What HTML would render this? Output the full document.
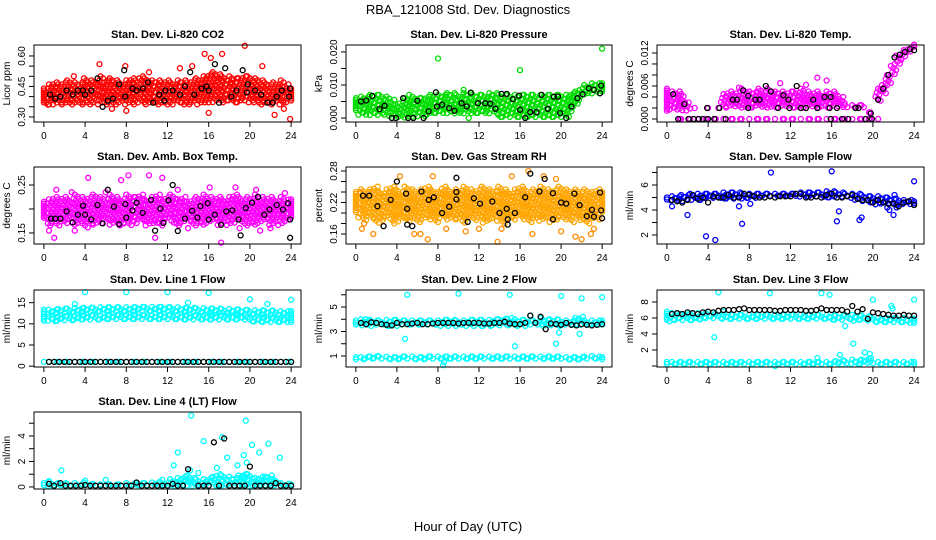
<!DOCTYPE html>
<html><head><meta charset="utf-8"><style>
html,body{margin:0;padding:0;background:#fff;}
svg{display:block;font-family:"Liberation Sans",Arial,sans-serif;}
</style></head><body>
<svg id="chart" width="936" height="540" viewBox="0 0 936 540">
<rect x="0" y="0" width="936" height="540" fill="#fff"/>
<text x="468" y="14" text-anchor="middle" font-size="13">RBA_121008  Std. Dev. Diagnostics</text>
<text x="468" y="531" text-anchor="middle" font-size="13">Hour of Day (UTC)</text>
</svg>
<script>
const hours=[0,0.5,1,1.5,2,2.5,3,3.5,4,4.5,5,5.5,6,6.5,7,7.5,8,8.5,9,9.5,10,10.5,11,11.5,12,12.5,13,13.5,14,14.5,15,15.5,16,16.5,17,17.5,18,18.5,19,19.5,20,20.5,21,21.5,22,22.5,23,23.5,24];
const xTicks=[0,4,8,12,16,20,24];
const n=null;
// P1 CO2
const co2Lo=[0.37,0.36,0.36,0.37,0.36,0.36,0.37,0.36,0.37,0.36,0.37,0.36,0.36,0.37,0.36,0.37,0.36,0.37,0.36,0.37,0.36,0.37,0.36,0.37,0.36,0.36,0.37,0.36,0.36,0.37,0.36,0.37,0.37,0.37,0.38,0.37,0.38,0.37,0.37,0.38,0.37,0.37,0.36,0.37,0.36,0.37,0.36,0.37,0.38];
const co2Hi=[0.44,0.46,0.47,0.46,0.47,0.48,0.47,0.46,0.49,0.48,0.47,0.50,0.48,0.49,0.48,0.47,0.48,0.49,0.48,0.50,0.49,0.48,0.48,0.47,0.48,0.47,0.48,0.48,0.47,0.48,0.49,0.50,0.51,0.52,0.51,0.50,0.50,0.49,0.49,0.50,0.50,0.49,0.48,0.47,0.46,0.47,0.48,0.46,0.44];
const co2OutX=[0.4,5.4,6.6,8.0,15.6,16.0,16.2,17.3,19.5,21.2,22.4,23.3,23.9,14.4,13.2,2.9,10.2,7.9];
const co2OutY=[0.36,0.56,0.34,0.33,0.61,0.32,0.59,0.61,0.65,0.55,0.31,0.34,0.29,0.55,0.54,0.50,0.52,0.55];
const co2BlkX=[0.6,1.1,1.6,2.2,2.8,3.3,3.8,4.0,4.6,5.2,5.7,6.2,6.7,7.3,7.8,7.9,8.6,9.0,9.6,10.1,10.6,11.2,11.7,11.8,12.5,13.2,13.7,14.2,14.6,15.3,15.8,16.0,16.6,17.0,17.6,18.2,18.7,19.3,19.7,19.8,20.5,21.1,21.7,22.2,22.6,23.1,23.8,23.9];
const co2BlkY=[0.41,0.39,0.40,0.43,0.41,0.43,0.43,0.41,0.43,0.49,0.35,0.38,0.39,0.46,0.53,0.40,0.44,0.43,0.44,0.47,0.37,0.41,0.38,0.43,0.43,0.41,0.45,0.52,0.41,0.44,0.45,0.43,0.56,0.37,0.54,0.40,0.43,0.53,0.42,0.46,0.43,0.41,0.37,0.37,0.40,0.43,0.40,0.44];
// P2 Pressure
const prLo=[0.002,0.001,0.0005,0.0005,0.0005,0.001,0.001,0,0,0,0,0,0,0,0.001,0.001,0.001,0.001,0.001,0.001,0.001,0.001,0.001,0.001,0.001,0.001,0.001,0.001,0,0,0,0,0,0,0,0,0,0,0,0,0,0,0.002,0.004,0.006,0.007,0.007,0.007,0.008];
const prHi=[0.006,0.0065,0.0065,0.007,0.007,0.007,0.0065,0.0055,0.004,0.005,0.006,0.0065,0.006,0.006,0.0065,0.007,0.007,0.007,0.0075,0.0075,0.007,0.0075,0.0075,0.007,0.007,0.007,0.0075,0.0075,0.007,0.007,0.007,0.007,0.007,0.007,0.007,0.007,0.007,0.007,0.007,0.007,0.007,0.007,0.0075,0.008,0.009,0.010,0.0105,0.0105,0.0105];
const prOutX=[8.0,16.0,24.0,11.0,5.2,10.5];
const prOutY=[0.018,0.0145,0.021,0,0.007,0.0085];
const prBlkX=[0.5,1.0,1.6,2.3,2.8,3.5,3.9,4.6,5.1,5.6,6.0,6.6,7.1,7.8,7.9,8.4,9.1,9.6,10.3,10.8,11.2,11.9,12.6,13.1,13.6,14.2,14.7,15.3,15.9,16.0,16.5,17.0,17.6,18.1,18.7,19.3,19.7,19.9,20.5,21.0,21.6,22.1,22.7,23.2,23.8,23.9];
const prBlkY=[0.005,0.0053,0.0067,0.0027,0.0037,0,0,0.006,0,0,0.0052,0,0.002,0.0078,0.0035,0.004,0.003,0.0022,0.0045,0.0035,0.0077,0.0045,0.0045,0.0043,0.0028,0.0073,0.0073,0.0057,0.0068,0.0025,0,0.0018,0.0018,0.007,0.0028,0.0065,0.0065,0.0015,0,0.0035,0.006,0.0072,0.009,0.0085,0.0075,0.0098];
// P3 Li-820 Temp
const tLo=[0.0015,0.0015,0.0015,0.0015,0.0015,n,n,n,n,n,n,0.002,0.002,0.002,0.002,0.002,0.002,0.002,0.002,0.002,0.002,0.002,0.002,0.002,0.002,0.002,0.002,0.002,0.002,0.002,0.002,0.002,0.002,0.002,0.002,0.002,0.002,0.002,0.002,0.001,0.001,0.003,0.0045,0.006,0.008,0.010,0.011,0.012,0.0128];
const tHi=[0.0055,0.005,0.005,0.0045,0.003,n,n,n,n,n,n,0.0045,0.005,0.0045,0.005,0.0055,0.005,0.005,0.0055,0.005,0.0055,0.005,0.005,0.0045,0.005,0.005,0.0055,0.005,0.0045,0.005,0.0045,0.005,0.005,0.0045,0.004,0.0025,0.0025,0.0025,0.0025,0.0012,0.0012,0.0055,0.0065,0.008,0.010,0.0115,0.0125,0.013,0.0135];
const tZero=[n,n,0,0,0,0,0,0,0,0,0,0,0,0,0,0,0,0,0,0,0,0,0,0,0,0,0,0,0,0,0,0,0,0,0,0,0,0,0,0,0,0,n,n,n,n,n,n,n];
const tOutX=[2.7,4.0,5.0,11.0,14.6,15.5,7.0,13.5];
const tOutY=[0.002,0.002,0.002,0.0065,0.0075,0.007,0.0057,0.0062];
const tBlkX=[0.6,1.1,1.7,2.1,2.6,3.1,3.5,3.9,4.0,4.6,5.1,5.7,6.4,6.8,7.4,7.9,7.9,8.6,9.0,9.6,10.1,10.8,11.3,11.8,11.9,12.6,13.0,13.5,14.2,14.6,15.3,15.8,15.9,15.9,16.5,17.0,17.6,18.3,18.6,19.3,19.8,19.9,20.5,21.0,21.5,22.1,22.6,23.1,23.6,24.0];
const tBlkY=[0.0045,0,0.0027,0,0,0,0,0.002,0,0,0.002,0,0.0035,0.0035,0.0052,0.002,0.0042,0.0035,0.0035,0.006,0.005,0.002,0.0043,0.0035,0.002,0.006,0.002,0.002,0.0035,0.002,0.004,0.002,0,0.004,0.002,0,0,0.002,0.002,0,0.001,0,0.0035,0.0055,0.008,0.0112,0.0117,0.0122,0.0127,0.0125];
// P4 Amb box temp
const abLo=[0.18,0.165,0.17,0.165,0.17,0.175,0.165,0.17,0.16,0.17,0.165,0.17,0.175,0.165,0.17,0.165,0.17,0.165,0.17,0.175,0.165,0.17,0.17,0.165,0.175,0.17,0.165,0.17,0.175,0.165,0.17,0.165,0.17,0.175,0.165,0.17,0.165,0.17,0.175,0.165,0.17,0.165,0.17,0.175,0.165,0.17,0.165,0.17,0.18];
const abHi=[0.215,0.22,0.225,0.22,0.225,0.22,0.23,0.225,0.22,0.225,0.23,0.225,0.22,0.23,0.225,0.22,0.23,0.225,0.225,0.23,0.22,0.225,0.23,0.22,0.225,0.23,0.22,0.225,0.215,0.22,0.225,0.23,0.225,0.22,0.225,0.22,0.225,0.23,0.225,0.22,0.225,0.23,0.225,0.22,0.225,0.22,0.225,0.22,0.22];
const abOutX=[1.2,1.0,2.7,4.3,7.5,8.2,10.2,11.5,10.8,16.1,18.6,20.6,23.4,19.0,17.2,22.0,3.0,6.0,13.0,14.0,21.0,0.5];
const abOutY=[0.24,0.14,0.235,0.265,0.26,0.27,0.27,0.265,0.14,0.245,0.245,0.24,0.233,0.16,0.13,0.16,0.155,0.235,0.24,0.16,0.155,0.155];
const abBlkX=[0.7,1.1,1.6,2.2,2.8,3.3,3.8,4.0,4.6,5.2,5.7,6.2,6.8,7.3,7.9,8.0,8.6,9.0,9.6,10.4,10.8,11.3,11.6,12.1,12.5,13.0,13.7,14.4,14.9,15.2,15.9,16.0,16.6,17.2,17.7,18.3,18.9,19.1,19.6,20.2,20.8,21.4,21.9,22.6,23.2,23.7,23.9,23.9];
const abBlkY=[0.18,0.18,0.18,0.195,0.172,0.188,0.207,0.188,0.178,0.208,0.17,0.24,0.205,0.168,0.21,0.182,0.197,0.213,0.192,0.219,0.155,0.201,0.171,0.218,0.25,0.154,0.18,0.196,0.182,0.206,0.212,0.178,0.188,0.167,0.195,0.197,0.178,0.145,0.202,0.213,0.225,0.188,0.199,0.208,0.199,0.212,0.178,0.14];
// P5 Gas stream RH
const rhLo=[0.2,0.19,0.185,0.19,0.18,0.185,0.19,0.185,0.18,0.19,0.185,0.19,0.18,0.185,0.19,0.185,0.18,0.19,0.185,0.19,0.185,0.18,0.19,0.185,0.19,0.18,0.185,0.19,0.185,0.18,0.19,0.185,0.19,0.185,0.18,0.19,0.185,0.19,0.18,0.185,0.19,0.185,0.18,0.19,0.185,0.18,0.19,0.185,0.2];
const rhHi=[0.24,0.245,0.24,0.245,0.25,0.24,0.245,0.25,0.245,0.24,0.25,0.245,0.24,0.245,0.25,0.245,0.24,0.25,0.245,0.24,0.245,0.25,0.245,0.24,0.245,0.25,0.245,0.24,0.25,0.245,0.24,0.245,0.25,0.245,0.24,0.245,0.25,0.245,0.24,0.245,0.25,0.245,0.24,0.245,0.24,0.245,0.24,0.245,0.24];
const rhOutX=[0.4,0.6,1.7,4.3,7.0,7.5,8.8,10.7,13.8,15.2,16.8,18.3,20.0,21.4,22.0,22.9,23.2,0.8,5.7,12.0,17.2,19.5,6.3,14.2];
const rhOutY=[0.24,0.17,0.16,0.27,0.15,0.27,0.17,0.165,0.145,0.27,0.28,0.27,0.165,0.155,0.15,0.16,0.17,0.18,0.16,0.17,0.16,0.265,0.16,0.17];
const rhBlkX=[0.7,1.3,2.1,2.7,3.4,4.0,4.9,5.0,5.0,5.5,6.4,7.1,7.6,8.4,9.1,9.8,9.8,9.8,10.9,11.5,12.1,13.3,14.0,14.7,14.8,14.8,15.5,16.5,17.0,17.9,18.4,19.2,19.2,20.0,20.5,21.3,21.8,22.5,23.0,23.2,23.8,24.0,23.9];
const rhBlkY=[0.233,0.233,0.213,0.175,0.225,0.26,0.237,0.208,0.178,0.175,0.241,0.225,0.23,0.2,0.212,0.267,0.24,0.226,0.183,0.228,0.218,0.222,0.2,0.208,0.188,0.178,0.2,0.23,0.275,0.241,0.265,0.238,0.188,0.22,0.218,0.237,0.215,0.194,0.206,0.193,0.239,0.19,0.205];
// P6 Sample flow
const sfLo=[4.7,4.7,4.7,4.7,4.8,4.8,4.8,4.8,4.9,4.9,4.9,4.9,4.9,4.9,4.9,4.9,4.9,4.9,5.0,5.0,5.0,5.0,5.0,5.0,5.0,5.0,5.0,5.0,5.0,5.0,5.0,5.0,5.0,5.0,5.0,5.0,4.9,4.8,4.7,4.6,4.5,4.4,4.4,4.4,4.4,4.4,4.4,4.4,4.4];
const sfHi=[5.0,5.1,5.1,5.2,5.2,5.3,5.3,5.3,5.3,5.3,5.3,5.4,5.4,5.4,5.4,5.3,5.3,5.3,5.3,5.3,5.3,5.3,5.3,5.3,5.3,5.3,5.4,5.4,5.4,5.4,5.4,5.5,5.5,5.4,5.4,5.3,5.3,5.3,5.2,5.1,5.1,5.1,5.0,5.0,4.9,4.9,4.8,4.8,4.7];
const sfOutX=[0.5,2.0,3.8,4.7,7.0,7.3,8.1,10.1,16.0,16.5,16.7,18.7,18.9,21.4,22.0,22.1,24.0,21.6,22.3];
const sfOutY=[4.3,3.6,1.9,1.6,4.3,2.9,4.5,7.0,7.1,3.1,3.9,3.2,3.4,4.2,3.6,5.2,6.3,4.0,4.2];
const sfBlk=[n,4.8,4.7,4.6,4.8,5.2,4.9,5.0,4.6,5.1,5.0,5.0,5.2,5.0,5.0,5.3,5.2,5.1,5.0,5.0,5.1,5.0,5.1,5.1,5.1,5.3,5.3,5.0,5.0,5.1,5.0,5.2,5.3,5.0,5.0,5.1,5.2,4.9,4.8,4.8,4.6,4.8,4.6,4.5,4.5,4.3,4.6,4.7,4.4];
// P7 Line 1 flow
const l1UpLo=[12.3,12.2,12.3,12.4,12.5,12.5,12.6,12.6,12.7,12.7,12.7,12.8,12.8,12.8,12.8,12.8,12.8,12.8,12.8,12.9,12.9,12.9,12.9,12.9,12.8,12.8,12.8,12.7,12.7,12.7,12.6,12.6,12.5,12.5,12.5,12.4,12.4,12.3,12.3,12.2,12.2,12.1,12.1,12.0,12.0,12.0,11.9,11.9,11.9];
const l1UpHi=[13.4,13.3,13.4,13.5,13.6,13.6,13.7,13.7,13.8,13.8,13.8,13.9,13.9,13.9,13.9,13.9,13.9,13.9,13.9,14.0,14.0,14.0,14.0,14.0,13.9,13.9,13.9,13.8,13.8,13.8,13.7,13.7,13.6,13.6,13.6,13.5,13.5,13.4,13.4,13.3,13.3,13.2,13.2,13.1,13.1,13.1,13.0,13.0,13.0];
const l1LwLo=[10.7,10.7,10.6,10.7,10.8,10.8,10.9,11.0,11.0,11.0,11.0,11.0,11.1,11.1,11.1,11.1,11.1,11.1,11.1,11.1,11.1,11.1,11.1,11.1,11.1,11.1,11.1,11.0,11.0,11.0,11.0,11.0,11.0,11.0,11.0,11.0,11.0,11.0,11.0,11.0,10.6,10.5,10.5,10.4,10.4,10.4,10.4,10.4,10.4];
const l1LwHi=[11.7,11.7,11.6,11.7,11.8,11.8,11.9,12.0,12.0,12.0,12.0,12.0,12.1,12.1,12.1,12.1,12.1,12.1,12.1,12.1,12.1,12.1,12.1,12.1,12.1,12.1,12.1,12.0,12.0,12.0,12.0,12.0,12.0,12.0,12.0,12.0,12.0,12.0,12.0,12.0,11.6,11.5,11.5,11.4,11.4,11.4,11.4,11.4,11.4];
const l1Bot=[1,1,1,1,1,1,1,1,1,1,1,1,1,1,1,1,1,1,1,1,1,1,1,1,1,1,1,1,1,1,1,1,1,1,1,1,1,1,1,1,1,1,1,1,1,1,1,1,1];
const l1OutX=[4,8,12,16,20,3,14,21.7,24];
const l1OutY=[17.5,17.5,17.5,17.3,15.8,14.7,15,14.7,15.7];
const l1Blk=[n,1,1,1,1,1,1,1,1,1,1,1,1,1,1,1,1,1,1,1,1,1,1,1,1,1,1,1,1,1,1,1,1,1,1,1,1,1,1,1,1,1,1,1,1,1,1,1,1];
// P8 Line 2 flow
const l2Lo=[3.45,3.45,3.45,3.45,3.45,3.45,3.45,3.45,3.45,3.45,3.45,3.45,3.45,3.45,3.45,3.45,3.45,3.45,3.45,3.45,3.45,3.45,3.45,3.45,3.45,3.45,3.45,3.45,3.45,3.45,3.45,3.45,3.45,3.45,3.45,3.45,3.45,3.45,3.45,3.45,3.45,3.45,3.45,3.45,3.45,3.45,3.45,3.45,3.45];
const l2Hi=[3.9,4.0,3.9,3.95,3.9,3.9,3.95,3.95,3.95,3.9,3.9,3.9,3.9,3.9,3.9,3.9,3.9,3.95,3.95,3.95,3.9,3.9,3.95,3.95,3.95,3.95,3.95,4.0,4.0,4.05,4.0,4.0,3.95,3.95,3.9,3.9,4.1,3.95,4.0,4.0,3.95,3.9,3.9,4.1,4.2,3.9,3.9,3.9,3.9];
const l2BotLo=[0.7,0.7,0.7,0.7,0.7,0.7,0.7,0.7,0.7,0.7,0.7,0.7,0.7,0.7,0.7,0.7,0.7,0.7,0.7,0.7,0.7,0.7,0.7,0.7,0.7,0.7,0.7,0.7,0.7,0.7,0.7,0.7,0.7,0.7,0.7,0.7,0.7,0.7,0.7,0.7,0.7,0.7,0.7,0.7,0.7,0.7,0.7,0.7,0.7];
const l2BotHi=[0.9,0.9,0.95,0.95,1.0,0.95,0.95,0.9,0.9,0.95,0.95,0.95,0.9,0.9,0.95,0.95,0.95,0.95,0.95,0.95,0.95,0.95,0.95,0.95,0.95,0.95,0.95,0.95,0.95,0.95,0.95,0.95,0.95,0.95,0.95,0.95,0.95,0.95,0.95,0.95,0.95,0.9,0.9,0.9,0.9,0.95,1.0,0.95,0.9];
const l2OutX=[5,10,15,20,22,24,4.8,15.5,19.5,19.8,21.8,17,8.5,8.6,15.2,23.8,1.0];
const l2OutY=[6.0,6.1,6.0,5.9,5.7,5.8,2.4,1.8,2.0,2.9,2.8,4.3,0.25,0.5,4.1,3.7,4.0];
const l2Blk=[n,3.7,3.6,3.75,3.7,3.6,3.55,3.5,3.7,3.6,3.6,3.65,3.7,3.6,3.6,3.65,3.7,3.7,3.7,3.7,3.65,3.7,3.7,3.7,3.7,3.65,3.65,3.7,3.7,3.8,3.65,3.6,3.6,3.7,4.3,3.7,4.2,3.2,3.65,3.6,3.55,3.7,3.55,3.5,3.6,3.55,3.5,3.55,3.6];
// P9 Line 3 flow
const l3Lo=[5.6,5.6,5.6,5.7,5.7,5.7,5.8,5.8,5.8,5.9,5.9,5.9,5.9,5.9,5.9,5.9,5.9,5.9,5.9,5.9,5.9,5.9,5.9,5.9,5.9,5.9,5.9,5.9,5.9,5.9,5.9,5.9,5.8,5.8,5.7,5.7,5.6,5.6,5.6,5.6,5.5,5.5,5.4,5.4,5.4,5.4,5.4,5.4,5.4];
const l3Hi=[6.8,6.6,6.5,6.5,6.5,6.5,6.6,6.6,6.5,6.5,6.5,6.4,6.4,6.4,6.4,6.4,6.4,6.4,6.4,6.4,6.4,6.4,6.4,6.4,6.4,6.4,6.4,6.4,6.4,6.4,6.4,6.4,6.3,6.3,6.3,6.4,6.4,6.3,6.3,6.2,6.1,6.0,6.0,6.0,6.0,6.0,6.0,5.9,5.9];
const l3BotLo=[0.2,0.2,0.2,0.2,0.2,0.2,0.2,0.2,0.2,0.2,0.2,0.2,0.2,0.2,0.2,0.2,0.2,0.2,0.2,0.2,0.2,0.2,0.2,0.2,0.2,0.2,0.2,0.2,0.2,0.2,0.2,0.2,0.2,0.2,0.2,0.2,0.2,0.2,0.2,0.2,0.2,0.2,0.2,0.2,0.2,0.2,0.2,0.2,0.2];
const l3BotHi=[0.5,0.5,0.5,0.5,0.5,0.5,0.5,0.5,0.5,0.5,0.5,0.5,0.5,0.5,0.5,0.5,0.5,0.5,0.5,0.5,0.5,0.5,0.5,0.5,0.5,0.5,0.5,0.5,0.5,0.5,0.5,0.5,0.5,0.6,0.7,0.6,0.8,0.7,0.8,0.9,0.6,0.5,0.5,0.5,0.5,0.5,0.5,0.5,0.5];
const l3OutX=[5,10,15,20,24,4.6,19.7,21.8,18.1,17.3,14.6,15.8,16.8,19.2,19.8,10.5,5.5,21.9];
const l3OutY=[9.2,9.1,9.1,8.3,8.3,3.6,1.5,7.5,2.8,5.0,1.0,8.9,1.4,1.7,1.0,0.0,6.8,7.2];
const l3Blk=[n,6.5,6.6,6.5,6.7,6.6,6.5,6.7,6.8,6.7,6.9,7.0,7.0,7.0,7.1,7.2,7.0,7.0,7.0,7.0,7.0,6.9,6.9,7.0,7.0,7.0,7.0,6.9,6.9,7.0,7.2,7.0,7.0,7.0,7.0,6.8,7.5,6.8,7.1,5.9,6.7,6.6,6.5,6.4,6.3,6.3,6.4,6.3,6.3];
// P10 Line 4 flow
const l4Lo=[0.05,0.05,0.05,0.05,0.05,0.05,0.05,0.05,0.05,0.05,0.05,0.05,0.05,0.05,0.05,0.05,0.05,0.05,0.05,0.05,0.05,0.05,0.05,0.05,0.05,0.05,0.05,0.05,0.05,0.05,0.05,0.05,0.05,0.05,0.05,0.05,0.05,0.05,0.05,0.05,0.05,0.05,0.05,0.05,0.05,0.05,0.05,0.05,0.05];
const l4Hi=[0.3,0.4,0.25,0.3,0.3,0.25,0.3,0.2,0.35,0.2,0.25,0.2,0.2,0.2,0.2,0.2,0.3,0.2,0.3,0.3,0.3,0.35,0.4,0.3,0.35,0.6,0.7,0.8,0.9,0.7,0.6,0.6,0.7,0.8,1.0,0.9,0.8,0.7,0.9,1.0,1.0,0.7,0.8,0.6,0.9,0.6,0.3,0.25,0.2];
const l4OutX=[1.7,12.6,13.0,14.3,15.5,16.8,17.3,17.8,18.8,19.4,19.6,19.7,20.2,20.9,21.8,22.9,21.5,19.4,15.0,0.5,4.0,6.0,11.5,14.2];
const l4OutY=[1.3,1.7,2.7,5.6,3.6,1.5,3.9,2.3,1.7,2.5,5.2,1.9,3.3,2.7,3.4,2.3,0.8,0.9,1.1,0.45,0.5,0.55,0.55,1.3];
const l4BlkX=[0.5,1.0,1.6,2.1,2.6,3.1,3.6,4.0,4.5,5.0,5.5,6.0,6.5,7.0,7.5,8.0,8.5,9.0,9.5,10.0,10.5,11.0,11.5,12.0,12.5,13.0,13.5,14.0,15.0,15.5,16.0,16.5,17.0,17.5,18.0,18.5,19.0,19.5,20.0,20.5,21.0,21.5,22.0,22.5,23.0,23.5,24.0];
const l4BlkY=[0.25,0.1,0.3,0.1,0.1,0.1,0.1,0.15,0.1,0.1,0.1,0.1,0.1,0.1,0.1,0.1,0.1,0.35,0.1,0.1,0.1,0.1,0.1,0.1,0.25,0.1,0.1,1.4,0.1,0.1,0.1,3.5,0.1,3.8,0.1,0.1,0.1,0.1,1.6,0.1,0.1,0.1,0.1,0.3,0.1,0.1,0.1];

const NS="http://www.w3.org/2000/svg";
const svg=document.getElementById('chart');
function mk(tag,attrs,parent){const e=document.createElementNS(NS,tag);for(const k in attrs)e.setAttribute(k,attrs[k]);(parent||svg).appendChild(e);return e;}
const jit=[-0.25,0,0.25,-0.12,0.12];

function panel(cfg){
  const g=mk('g',{});
  
  
  const b=cfg.box;
  const sx=v=>b.x0+(v+0.96)/25.92*(b.x1-b.x0);
  const sy=v=>b.y1-(v-cfg.ylim[0])/(cfg.ylim[1]-cfg.ylim[0])*(b.y1-b.y0);
  const marks=mk('g',{fill:'none','stroke-width':1.3},g);
  
  
  function dot(x,y,col){const c=mk('circle',{cx:sx(x).toFixed(1),cy:sy(y).toFixed(1),r:2.5,stroke:col},marks);
    
    }
  (cfg.clouds||[]).forEach(cl=>{
    for(let i=0;i<hours.length;i++){
      const lo=cl.lo[i],hi=cl.hi[i];
      if(lo===null||hi===null)continue;
      const p1=sy(hi),p2=sy(lo);
      let k=0;
      for(let p=p1;p<=p2+0.01||k===0;p+=2.0){
        const off=(i>0&&i<hours.length-1)?jit[(k+i)%jit.length]:0;
        const d=mk('circle',{cx:sx(hours[i]+off).toFixed(1),cy:Math.min(p,p2).toFixed(1),r:2.5,stroke:cl.color},marks);
        
        
        k++;
        if(k>60)break;
      }
    }
  });
  (cfg.outs||[]).forEach(o=>{for(let i=0;i<o.x.length;i++)dot(o.x[i],o.y[i],o.color);});
  (cfg.blks||[]).forEach(o=>{
    if(o.x){for(let i=0;i<o.x.length;i++)dot(o.x[i],o.y[i],'#000');}
    else{for(let i=0;i<hours.length;i++)if(o.y[i]!==null)dot(hours[i],o.y[i],'#000');}
  });
  const fr=mk('rect',{x:b.x0,y:b.y0,width:b.x1-b.x0,height:b.y1-b.y0,fill:'none',stroke:'#000','stroke-width':1},g);
  
  
  const t=mk('text',{x:(b.x0+b.x1)/2,y:b.y0-7,'text-anchor':'middle','font-size':11,'font-weight':'bold'},g);
  t.textContent=cfg.title;
  
  
  xTicks.forEach(v=>{
    const x=sx(v);
    const tk=mk('line',{x1:x,x2:x,y1:b.y1,y2:b.y1+5,stroke:'#000'},g);
    
    
    const tl=mk('text',{x:x,y:b.y1+17,'text-anchor':'middle','font-size':10},g);
    tl.textContent=v;
    
    
  });
  const ax=mk('line',{x1:sx(0),x2:sx(24),y1:b.y1,y2:b.y1,stroke:'#000'},g);
  
  
  cfg.yTicks.forEach(v=>{
    const y=sy(v);
    const tk=mk('line',{x1:b.x0-5,x2:b.x0,y1:y,y2:y,stroke:'#000'},g);
    
    
  });
  cfg.yLabels.forEach((lab,i)=>{
    const y=sy(cfg.yLabelVals[i]);
    const tl=mk('text',{x:0,y:0,'text-anchor':'middle','font-size':10,transform:`translate(${b.x0-9},${y}) rotate(-90)`},g);
    tl.textContent=lab;
    
    
  });
  const yl=mk('text',{x:0,y:0,'text-anchor':'middle','font-size':10,transform:`translate(${b.x0-24},${(b.y0+b.y1)/2}) rotate(-90)`},g);
  yl.textContent=cfg.ylabel;
  
  
}
const C1={x0:34,x1:301},C2={x0:346,x1:612},C3={x0:657,x1:924};
const R1={y0:45,y1:122},R2={y0:167,y1:244},R3={y0:290,y1:367},R4={y0:412,y1:489};
const bx=(c,r)=>({x0:c.x0,x1:c.x1,y0:r.y0,y1:r.y1});

panel({name:'panel-co2',title:'Stan. Dev. Li-820 CO2',ylabel:'Licor ppm',box:bx(C1,R1),ylim:[0.275,0.654],
  yTicks:[0.30,0.35,0.40,0.45,0.50,0.55,0.60],yLabels:['0.30','0.45','0.60'],yLabelVals:[0.30,0.45,0.60],
  clouds:[{lo:co2Lo,hi:co2Hi,color:'#ff0000'}],outs:[{x:co2OutX,y:co2OutY,color:'#ff0000'}],blks:[{x:co2BlkX,y:co2BlkY}]});
panel({name:'panel-pressure',title:'Stan. Dev. Li-820 Pressure',ylabel:'kPa',box:bx(C2,R1),ylim:[-0.0012,0.0221],
  yTicks:[0,0.005,0.010,0.015,0.020],yLabels:['0.000','0.010','0.020'],yLabelVals:[0,0.010,0.020],
  clouds:[{lo:prLo,hi:prHi,color:'#00dd00'}],outs:[{x:prOutX,y:prOutY,color:'#00dd00'}],blks:[{x:prBlkX,y:prBlkY}]});
panel({name:'panel-li820-temp',title:'Stan. Dev. Li-820 Temp.',ylabel:'degrees C',box:bx(C3,R1),ylim:[-0.00055,0.01345],
  yTicks:[0,0.002,0.004,0.006,0.008,0.010,0.012],yLabels:['0.000','0.006','0.012'],yLabelVals:[0,0.006,0.012],
  clouds:[{lo:tLo,hi:tHi,color:'#ff00ff'},{lo:tZero,hi:tZero,color:'#ff00ff'}],outs:[{x:tOutX,y:tOutY,color:'#ff00ff'}],blks:[{x:tBlkX,y:tBlkY}]});
panel({name:'panel-amb-box-temp',title:'Stan. Dev. Amb. Box Temp.',ylabel:'degrees C',box:bx(C1,R2),ylim:[0.127,0.2875],
  yTicks:[0.15,0.20,0.25],yLabels:['0.15','0.25'],yLabelVals:[0.15,0.25],
  clouds:[{lo:abLo,hi:abHi,color:'#ff00ff'}],outs:[{x:abOutX,y:abOutY,color:'#ff00ff'}],blks:[{x:abBlkX,y:abBlkY}]});
panel({name:'panel-gas-stream-rh',title:'Stan. Dev. Gas Stream RH',ylabel:'percent',box:bx(C2,R2),ylim:[0.141,0.2876],
  yTicks:[0.16,0.18,0.20,0.22,0.24,0.26,0.28],yLabels:['0.16','0.22','0.28'],yLabelVals:[0.16,0.22,0.28],
  clouds:[{lo:rhLo,hi:rhHi,color:'#ffa500'}],outs:[{x:rhOutX,y:rhOutY,color:'#ff8c00'}],blks:[{x:rhBlkX,y:rhBlkY}]});
panel({name:'panel-sample-flow',title:'Stan. Dev. Sample Flow',ylabel:'ml/min',box:bx(C3,R2),ylim:[1.28,7.44],
  yTicks:[2,3,4,5,6,7],yLabels:['2','4','6'],yLabelVals:[2,4,6],
  clouds:[{lo:sfLo,hi:sfHi,color:'#0000ff'}],outs:[{x:sfOutX,y:sfOutY,color:'#0000ff'}],blks:[{y:sfBlk}]});
panel({name:'panel-line1-flow',title:'Stan. Dev. Line 1 Flow',ylabel:'ml/min',box:bx(C1,R3),ylim:[-0.2,18.0],
  yTicks:[0,5,10,15],yLabels:['0','5','10','15'],yLabelVals:[0,5,10,15],
  clouds:[{lo:l1UpLo,hi:l1UpHi,color:'#00ffff'},{lo:l1LwLo,hi:l1LwHi,color:'#00ffff'},{lo:l1Bot,hi:l1Bot,color:'#00ffff'}],
  outs:[{x:l1OutX,y:l1OutY,color:'#00ffff'}],blks:[{y:l1Blk}]});
panel({name:'panel-line2-flow',title:'Stan. Dev. Line 2 Flow',ylabel:'ml/min',box:bx(C2,R3),ylim:[0.10,6.39],
  yTicks:[1,2,3,4,5,6],yLabels:['1','3','5'],yLabelVals:[1,3,5],
  clouds:[{lo:l2Lo,hi:l2Hi,color:'#00ffff'},{lo:l2BotLo,hi:l2BotHi,color:'#00ffff'}],
  outs:[{x:l2OutX,y:l2OutY,color:'#00ffff'}],blks:[{y:l2Blk}]});
panel({name:'panel-line3-flow',title:'Stan. Dev. Line 3 Flow',ylabel:'ml/min',box:bx(C3,R3),ylim:[-0.125,9.5],
  yTicks:[0,2,4,6,8],yLabels:['2','4','6','8'],yLabelVals:[2,4,6,8],
  clouds:[{lo:l3Lo,hi:l3Hi,color:'#00ffff'},{lo:l3BotLo,hi:l3BotHi,color:'#00ffff'}],
  outs:[{x:l3OutX,y:l3OutY,color:'#00ffff'}],blks:[{y:l3Blk}]});
panel({name:'panel-line4-flow',title:'Stan. Dev. Line 4 (LT) Flow',ylabel:'ml/min',box:bx(C1,R4),ylim:[-0.16,5.88],
  yTicks:[0,1,2,3,4,5],yLabels:['0','2','4'],yLabelVals:[0,2,4],
  clouds:[{lo:l4Lo,hi:l4Hi,color:'#00ffff'}],outs:[{x:l4OutX,y:l4OutY,color:'#00ffff'}],blks:[{x:l4BlkX,y:l4BlkY}]});
</script>
</body></html>
